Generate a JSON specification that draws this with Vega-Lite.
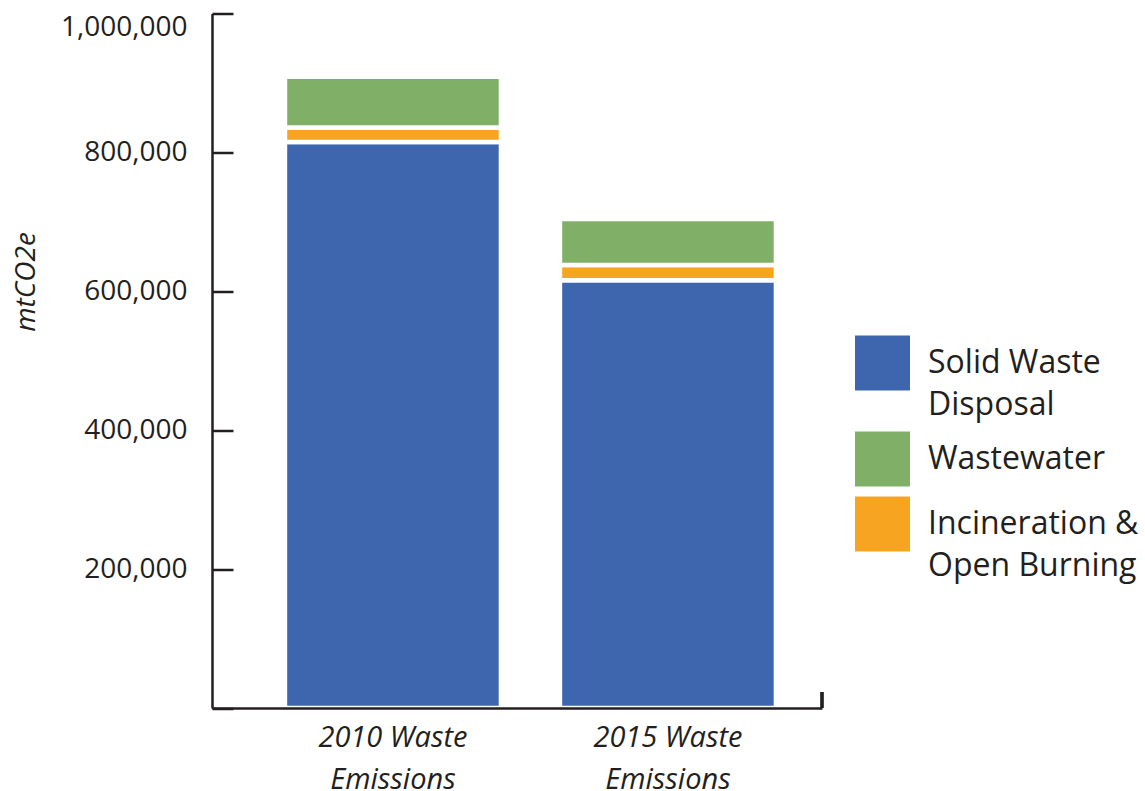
{
  "$schema": "https://vega.github.io/schema/vega-lite/v6.json",
  "autosize": "none",
  "width": 610,
  "height": 694.5,
  "padding": {"left": 212, "top": 13.5, "right": 323, "bottom": 83},
  "background": "white",
  "config": {
    "view": {"stroke": null},
    "font": "Open Sans",
    "style": {"guide-label": {"lineHeight": 42}},
    "axis": {"labelColor": "#231f20", "titleColor": "#231f20", "domainColor": "#231f20", "tickColor": "#231f20"},
    "legend": {"labelColor": "#231f20"}
  },
  "data": {
    "values": [
      {"period": "2010 Waste Emissions", "source": "Solid Waste Disposal", "mtco2e": 815000},
      {"period": "2010 Waste Emissions", "source": "Incineration & Open Burning", "mtco2e": 21000},
      {"period": "2010 Waste Emissions", "source": "Wastewater", "mtco2e": 73000},
      {"period": "2015 Waste Emissions", "source": "Solid Waste Disposal", "mtco2e": 616000},
      {"period": "2015 Waste Emissions", "source": "Incineration & Open Burning", "mtco2e": 22000},
      {"period": "2015 Waste Emissions", "source": "Wastewater", "mtco2e": 66000}
    ]
  },
  "resolve": {"scale": {"x": "independent"}},
  "layer": [
    {
      "transform": [
        {"calculate": "indexof(['Solid Waste Disposal', 'Incineration & Open Burning', 'Wastewater'], datum.source)", "as": "stackRank"}
      ],
      "mark": {"type": "bar", "stroke": "white", "strokeWidth": 4.5},
      "encoding": {
        "x": {
          "field": "period",
          "type": "nominal",
          "scale": {"paddingInner": 0.2145, "paddingOuter": 0.2164, "align": 0.613},
          "axis": {
            "title": null,
            "ticks": false,
            "domainWidth": 2.5,
            "zindex": 1,
            "labelAngle": 0,
            "labelFont": "Open Sans",
            "labelFontStyle": "italic",
            "labelFontSize": 29,
            "labelLineHeight": 42,
            "labelPadding": 15,
            "labelBaseline": "top",
            "labelExpr": "[replace(datum.label, ' Emissions', ''), 'Emissions']"
          }
        },
        "y": {
          "field": "mtco2e",
          "type": "quantitative",
          "stack": "zero",
          "scale": {"domain": [0, 1000000], "nice": false},
          "axis": {
            "title": "mtCO2e",
            "titleFont": "Open Sans",
            "titleFontStyle": "italic",
            "titleFontWeight": "normal",
            "titleFontSize": 28,
            "titleAngle": -90,
            "titleAlign": "center",
            "titleBaseline": "middle",
            "titleX": -186,
            "titleY": 268,
            "values": [0, 200000, 400000, 600000, 800000, 1000000],
            "labelExpr": "datum.value == 0 ? '' : datum.label",
            "format": ",d",
            "labelFlush": true,
            "labelFontSize": 28,
            "labelPadding": 46,
            "tickSize": -21,
            "tickWidth": 2.5,
            "domainWidth": 2.5,
            "grid": false,
            "zindex": 1
          }
        },
        "color": {
          "field": "source",
          "type": "nominal",
          "scale": {
            "domain": ["Solid Waste Disposal", "Wastewater", "Incineration & Open Burning"],
            "range": ["#3d66af", "#80b068", "#f7a521"]
          },
          "legend": {
            "title": null,
            "orient": "none",
            "legendX": 643,
            "legendY": 322,
            "symbolType": "square",
            "symbolSize": 3025,
            "symbolStrokeWidth": 0,
            "symbolOpacity": 1,
            "labelFont": "Open Sans",
            "labelFontSize": 32,
            "labelOffset": 18,
            "labelLimit": 400,
            "rowPadding": 10,
            "labelExpr": "datum.label == 'Solid Waste Disposal' ? ['Solid Waste', 'Disposal'] : datum.label == 'Incineration & Open Burning' ? ['Incineration &', 'Open Burning'] : datum.label"
          }
        },
        "order": {"field": "stackRank", "type": "quantitative"}
      }
    },
    {
      "mark": {"type": "rule", "color": "#231f20", "strokeWidth": 2.5},
      "encoding": {
        "x": {"datum": 1, "type": "quantitative", "scale": {"domain": [0, 1], "nice": false}, "axis": null},
        "y": {"datum": 0, "type": "quantitative"},
        "y2": {"datum": 23000}
      }
    }
  ]
}
